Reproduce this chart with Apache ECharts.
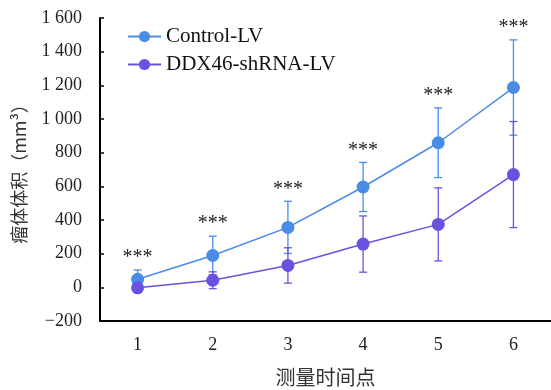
<!DOCTYPE html>
<html><head><meta charset="utf-8">
<script src="https://cdn.jsdelivr.net/npm/echarts@6/dist/echarts.min.js"></script>
<style>html,body{margin:0;padding:0;background:#fff}#c{width:551px;height:390px}</style>
</head><body><div id="c"></div>
<script>
const categories = ['1','2','3','4','5','6'];
const controlValues = [48, 189, 356, 596, 859, 1187];
const controlErrors = [55, 115, 155, 146, 207, 283];
const ddxValues = [-3, 42, 130, 257, 374, 670];
const ddxErrors = [10, 50, 105, 167, 217, 315];
const sigLabels = ['***','***','***','***','***','***'];
const seriesNames = ['Control-LV', 'DDX46-shRNA-LV'];
const yTicks = {min: -200, max: 1600, interval: 200};

const colorControl = '#4A8BE6';
const colorDDX = '#6A52E0';
const serif = '"Liberation Serif","DejaVu Serif",serif';

function fmt(v){
  const s = Math.abs(v).toString();
  const t = s.length > 3 ? s.slice(0, s.length-3) + ' ' + s.slice(-3) : s;
  return (v < 0 ? '\u2212' : '') + t;
}

function errSeries(vals, errs, color, withSig){
  return {
    type: 'custom',
    silent: true,
    z: 3,
    data: vals.map((v,i)=>[i, v, errs[i]]),
    renderItem: function(params, api){
      const i = api.value(0), v = api.value(1), e = api.value(2);
      const top = api.coord([i, v + e]);
      const bot = api.coord([i, v - e]);
      const cw = 4;
      const style = {stroke: color, lineWidth: 1.3};
      const children = [
        {type:'line', shape:{x1:top[0], y1:top[1], x2:bot[0], y2:bot[1]}, style},
        {type:'line', shape:{x1:top[0]-cw, y1:top[1], x2:top[0]+cw, y2:top[1]}, style},
        {type:'line', shape:{x1:bot[0]-cw, y1:bot[1], x2:bot[0]+cw, y2:bot[1]}, style}
      ];
      if (withSig) {
        children.push({type:'text', style:{text: sigLabels[i], x: top[0], y: top[1]-2,
          align:'center', verticalAlign:'bottom', fontSize: 20, fontFamily: serif, fill:'#222'}});
      }
      return {type:'group', children};
    }
  };
}

const chart = echarts.init(document.getElementById('c'));
chart.setOption({
  animation: false,
  grid: {left: 100, right: 0, top: 18, bottom: 69, containLabel: false, outerBoundsMode: 'none'},
  legend: {
    orient: 'vertical', left: 122, top: 21, itemWidth: 33, itemHeight: 14, itemGap: 7,
    textStyle: {fontFamily: serif, fontSize: 21, color: '#111'},
    data: seriesNames
  },
  xAxis: {
    type: 'category', data: categories, boundaryGap: true,
    name: '测量时间点', nameLocation: 'middle', nameGap: 46,
    nameTextStyle: {fontFamily: '"Noto Sans CJK SC",sans-serif', fontSize: 20, color: '#333'},
    axisLine: {onZero: false, lineStyle: {color: '#000', width: 2}},
    axisTick: {inside: true, length: 5, lineStyle: {color: '#000', width: 1.5}},
    axisLabel: {margin: 15, fontFamily: serif, fontSize: 18, color: '#222'}
  },
  yAxis: {
    type: 'value', min: yTicks.min, max: yTicks.max, interval: yTicks.interval,
    name: '瘤体体积（mm³）', nameLocation: 'middle', nameGap: 72, nameRotate: 90,
    nameTextStyle: {fontFamily: '"Noto Sans CJK SC",sans-serif', fontSize: 18, color: '#333'},
    splitLine: {show: false},
    axisLine: {show: true, lineStyle: {color: '#000', width: 2}},
    axisTick: {show: true, inside: true, length: 4, lineStyle: {color: '#000', width: 1.5}},
    axisLabel: {margin: 18, fontFamily: serif, fontSize: 18, color: '#222', formatter: fmt}
  },
  series: [
    errSeries(controlValues, controlErrors, colorControl, true),
    errSeries(ddxValues, ddxErrors, colorDDX, false),
    {name: seriesNames[0], type: 'line', data: controlValues, symbol: 'circle', symbolSize: 13,
     z: 4, itemStyle: {color: colorControl}, lineStyle: {color: colorControl, width: 1.5}},
    {name: seriesNames[1], type: 'line', data: ddxValues, symbol: 'circle', symbolSize: 13,
     z: 5, itemStyle: {color: colorDDX}, lineStyle: {color: colorDDX, width: 1.5}}
  ]
});
</script></body></html>
